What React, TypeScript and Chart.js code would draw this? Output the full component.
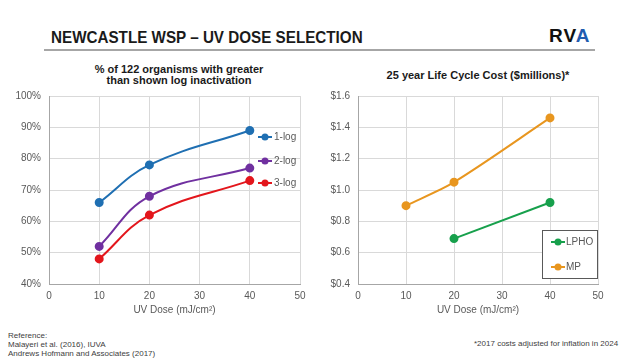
import React, { useEffect, useRef } from "react";
import { Chart, registerables } from "chart.js";

Chart.register(...registerables);
Chart.defaults.font.family = "'Liberation Sans', Arial, sans-serif";

// ---- data ----
const doses = [10, 20, 40];
const log1 = [66, 78, 89];
const log2 = [52, 68, 77];
const log3 = [48, 62, 73];
const leftNames = ["1-log", "2-log", "3-log"];
const leftColors = ["#1f6fb2", "#7030a0", "#e3161c"];

const lphoDoses = [20, 40];
const lpho = [0.69, 0.92];
const mpDoses = [10, 20, 40];
const mp = [0.9, 1.05, 1.46];
const rightNames = ["LPHO", "MP"];
const rightColors = ["#17a04c", "#e8961f"];

const xAxisTitle = "UV Dose (mJ/cm²)";
const leftTitle = ["% of 122 organisms with greater", "than shown log inactivation"];
const rightTitle = "25 year Life Cycle Cost ($millions)*";

const toPts = (xs: number[], ys: number[]) => xs.map((x, i) => ({ x, y: ys[i] }));

const legendPlugin = {
  id: "customLegend",
  afterDraw(chart: any, _args: any, opts: any) {
    const ctx = chart.ctx;
    ctx.save();
    if (opts.box) {
      const b = opts.box;
      ctx.fillStyle = "#ffffff";
      ctx.fillRect(b.x, b.y, b.w, b.h);
      ctx.strokeStyle = "#595959";
      ctx.lineWidth = 1;
      ctx.strokeRect(b.x + 0.5, b.y + 0.5, b.w, b.h);
    }
    chart.data.datasets.forEach((ds: any, i: number) => {
      const y = opts.rows[i];
      ctx.strokeStyle = ds.borderColor;
      ctx.lineWidth = 2;
      ctx.beginPath();
      ctx.moveTo(opts.x0, y);
      ctx.lineTo(opts.x1, y);
      ctx.stroke();
      ctx.fillStyle = ds.borderColor;
      ctx.beginPath();
      ctx.arc((opts.x0 + opts.x1) / 2, y, 3.5, 0, Math.PI * 2);
      ctx.fill();
      ctx.fillStyle = "#595959";
      ctx.font = "10px 'Liberation Sans', Arial, sans-serif";
      ctx.textBaseline = "middle";
      ctx.textAlign = "left";
      ctx.fillText(ds.label, opts.textX, y);
    });
    ctx.restore();
  },
};

function makeScales(yMin: number, yMax: number, yStep: number, yFmt: (v: number) => string, yWidth: number) {
  return {
    x: {
      type: "linear",
      min: 0,
      max: 50,
      ticks: { stepSize: 10, color: "#595959", font: { size: 10 }, padding: 6 },
      grid: { color: "#d9d9d9", drawTicks: false },
      border: { color: "#a6a6a6" },
      title: { display: true, text: xAxisTitle, color: "#595959", font: { size: 10 }, padding: { top: 0, bottom: 4 } },
      afterFit: (s: any) => {
        s.height = 36;
      },
    },
    y: {
      min: yMin,
      max: yMax,
      ticks: { stepSize: yStep, color: "#595959", font: { size: 10 }, padding: 8, callback: (v: any) => yFmt(Number(v)) },
      grid: { color: "#d9d9d9", drawTicks: false },
      border: { color: "#a6a6a6" },
      afterFit: (s: any) => {
        s.width = yWidth;
      },
    },
  };
}

function LeftChart() {
  const ref = useRef<HTMLCanvasElement>(null);
  useEffect(() => {
    const series = [log1, log2, log3];
    const chart = new Chart(ref.current!, {
      type: "line",
      data: {
        datasets: series.map((s, i) => ({
          label: leftNames[i],
          data: toPts(doses, s),
          borderColor: leftColors[i],
          backgroundColor: leftColors[i],
          borderWidth: 2,
          pointRadius: 3.5,
          tension: 0.4,
        })),
      },
      options: {
        responsive: false,
        animation: false,
        layout: { padding: { left: 0, right: 20, top: 36, bottom: 0 } },
        scales: makeScales(40, 100, 10, (v) => v + "%", 49) as any,
        plugins: {
          legend: { display: false },
          tooltip: { enabled: false },
          customLegend: { x0: 258, x1: 272, textX: 274, rows: [77, 101, 123] },
        } as any,
      },
      plugins: [legendPlugin],
    } as any);
    return () => chart.destroy();
  }, []);
  return <canvas ref={ref} width={320} height={260} style={{ position: "absolute", left: 0, top: 60, width: 320, height: 260 }} />;
}

function RightChart() {
  const ref = useRef<HTMLCanvasElement>(null);
  useEffect(() => {
    const chart = new Chart(ref.current!, {
      type: "line",
      data: {
        datasets: [
          {
            label: rightNames[0],
            data: toPts(lphoDoses, lpho),
            borderColor: rightColors[0],
            backgroundColor: rightColors[0],
            borderWidth: 2,
            pointRadius: 3.5,
            tension: 0,
          },
          {
            label: rightNames[1],
            data: toPts(mpDoses, mp),
            borderColor: rightColors[1],
            backgroundColor: rightColors[1],
            borderWidth: 2,
            pointRadius: 3.5,
            tension: 0.3,
          },
        ],
      },
      options: {
        responsive: false,
        animation: false,
        layout: { padding: { left: 0, right: 42, top: 36, bottom: 0 } },
        scales: makeScales(0.4, 1.6, 0.2, (v) => "$" + v.toFixed(1), 38) as any,
        plugins: {
          legend: { display: false },
          tooltip: { enabled: false },
          customLegend: { box: { x: 222, y: 170, w: 55, h: 48 }, x0: 231, x1: 245, textX: 246, rows: [182, 207] },
        } as any,
      },
      plugins: [legendPlugin],
    } as any);
    return () => chart.destroy();
  }, []);
  return <canvas ref={ref} width={320} height={260} style={{ position: "absolute", left: 320, top: 60, width: 320, height: 260 }} />;
}

export default function App() {
  const sans = "'Liberation Sans', Arial, sans-serif";
  return (
    <div style={{ position: "fixed", left: 0, top: 0, width: 640, height: 360, background: "#fff", overflow: "hidden", fontFamily: sans }}>
      <div style={{ position: "absolute", left: 51, top: 28, fontSize: 17, lineHeight: "20px", fontWeight: "bold", color: "#1a1a1a", whiteSpace: "nowrap", transform: "scaleX(0.895)", transformOrigin: "left center" }}>
        NEWCASTLE WSP – UV DOSE SELECTION
      </div>
      <div style={{ position: "absolute", left: 549, top: 25, fontSize: 19, lineHeight: "22px", fontWeight: "bold", letterSpacing: 1, whiteSpace: "nowrap" }}>
        <span style={{ color: "#111" }}>RV</span>
        <span style={{ color: "#1f5cb0" }}>A</span>
      </div>
      <div style={{ position: "absolute", left: 44, top: 49, width: 551, height: 2, background: "#a6a6a6" }} />
      <div style={{ position: "absolute", left: 79, top: 64, width: 200, textAlign: "center", fontSize: 11, lineHeight: "11px", fontWeight: "bold", color: "#1a1a1a" }}>
        {leftTitle[0]}
        <br />
        {leftTitle[1]}
      </div>
      <div style={{ position: "absolute", left: 358, top: 70, width: 240, textAlign: "center", fontSize: 11, lineHeight: "11px", fontWeight: "bold", color: "#1a1a1a", whiteSpace: "nowrap" }}>
        {rightTitle}
      </div>
      <LeftChart />
      <RightChart />
      <div style={{ position: "absolute", left: 8, top: 331, fontSize: 8, lineHeight: "9px", color: "#404040", whiteSpace: "nowrap" }}>
        Reference:
        <br />
        Malayeri et al. (2016), IUVA
        <br />
        Andrews Hofmann and Associates (2017)
      </div>
      <div style={{ position: "absolute", left: 474, top: 339, fontSize: 8, lineHeight: "9px", color: "#404040", whiteSpace: "nowrap" }}>
        *2017 costs adjusted for inflation in 2024
      </div>
    </div>
  );
}
